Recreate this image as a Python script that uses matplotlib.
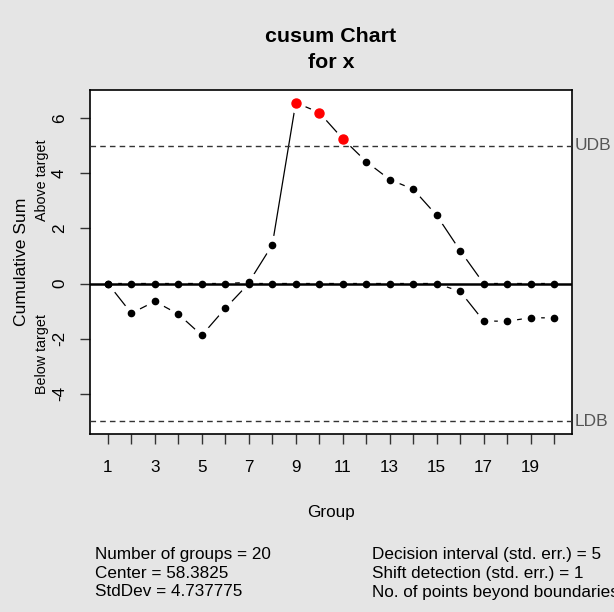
import numpy as np
import matplotlib
matplotlib.use("Agg")
import matplotlib.pyplot as plt

plt.rcParams['font.family'] = ['Liberation Sans', 'DejaVu Sans']

# cusum values
groups = np.arange(1, 21)
upper = [0, 0, 0, 0, 0, 0, 0.04, 1.40, 6.56, 6.20, 5.25, 4.42, 3.77, 3.42,
         2.47, 1.19, 0, 0, 0, 0]
lower = [0, -1.08, -0.65, -1.11, -1.88, -0.90, 0, 0, 0, 0, 0, 0, 0, 0,
         0, -0.29, -1.36, -1.37, -1.24, -1.25]
udb = 5
ldb = -5
stats_left = ["Number of groups = 20", "Center = 58.3825", "StdDev = 4.737775"]
stats_right = ["Decision interval (std. err.) = 5", "Shift detection (std. err.) = 1",
               "No. of points beyond boundaries = 3"]

bg = "#e5e5e5"
fig = plt.figure(figsize=(6.14, 6.12), dpi=100, facecolor=bg)
ax = fig.add_axes([0.1466, 0.2908, 0.7850, 0.5622])
ax.set_facecolor("white")

upper = np.array(upper)
lower = np.array(lower)

# type="b" lines: solid line broken around each point
for s in (upper, lower):
    ax.plot(groups, s, color="black", lw=0.9, zorder=2)
    ax.plot(groups, s, "o", ms=13, mfc="white", mec="white", zorder=3)

ax.axhline(0, color="black", lw=1.8, zorder=4)
ax.axhline(udb, color="#333333", lw=1, ls=(0, (4, 3)), zorder=4)
ax.axhline(ldb, color="#333333", lw=1, ls=(0, (4, 3)), zorder=4)

out = upper > udb
ax.plot(groups[~out], upper[~out], "o", color="black", ms=4.5, zorder=5)
ax.plot(groups[out], upper[out], "o", color="red", ms=6.5, zorder=5)
ax.plot(groups, lower, "o", color="black", ms=4.5, zorder=5)

ax.set_xlim(0.24, 20.76)
ax.set_ylim(-5.46, 7.02)
ax.set_xticks(groups)
ax.set_xticklabels([str(g) if g % 2 == 1 else "" for g in groups])
ax.set_yticks([-4, -2, 0, 2, 4, 6])
ax.set_yticklabels(["-4", "-2", "0", "2", "4", "6"], rotation=90, va="center")
ax.tick_params(direction="out", length=7.5, width=1, labelsize=12.3,
               color="#333333")
ax.tick_params(axis="x", pad=11)
ax.tick_params(axis="y", pad=9)
for sp in ax.spines.values():
    sp.set_linewidth(1.2)

ax.text(1.005, udb, "UDB", transform=ax.get_yaxis_transform(), color="#555555",
        fontsize=12.5, va="center", ha="left", clip_on=False)
ax.text(1.005, ldb, "LDB", transform=ax.get_yaxis_transform(), color="#555555",
        fontsize=12.5, va="center", ha="left", clip_on=False)

fig.text(331 / 614, 1 - 37 / 612, "cusum Chart", fontsize=15.4,
         fontweight="bold", ha="center", va="center")
fig.text(331 / 614, 1 - 62 / 612, "for x", fontsize=15.4,
         fontweight="bold", ha="center", va="center")
fig.text(331 / 614, 1 - 512 / 612, "Group", fontsize=12.3,
         ha="center", va="center")
fig.text(22 / 614, 1 - 262 / 612, "Cumulative Sum", rotation=90, fontsize=12.6,
         ha="center", va="center")
fig.text(42 / 614, 1 - 180 / 612, "Above target", rotation=90, fontsize=10.3,
         ha="center", va="center")
fig.text(42 / 614, 1 - 354 / 612, "Below target", rotation=90, fontsize=10.3,
         ha="center", va="center")

for i, (l, r) in enumerate(zip(stats_left, stats_right)):
    y = 1 - (555 + 18.5 * i) / 612
    fig.text(95 / 614, y, l, fontsize=12.3, va="center", ha="left")
    fig.text(372 / 614, y, r, fontsize=12.3, va="center", ha="left")

fig.savefig("out.png", dpi=100, facecolor=bg)
